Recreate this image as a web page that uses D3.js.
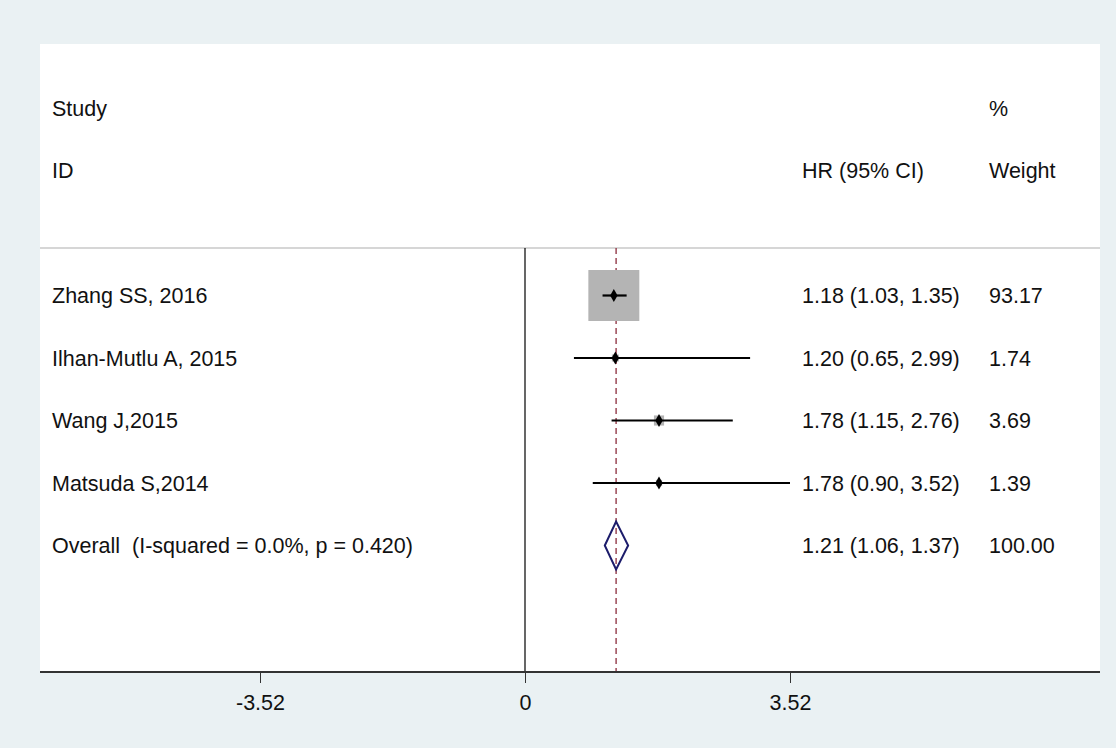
<!DOCTYPE html>
<html>
<head>
<meta charset="utf-8">
<title>Forest plot</title>
<style>
  body { margin: 0; background: #eaf1f3; }
  svg text { font-family: "Liberation Sans", Arial, sans-serif; font-size: 21.5px; fill: #111; white-space: pre; }
  .ci { stroke: #000; stroke-width: 2.2px; }
  .box { fill: #b4b4b4; }
  .dot { fill: #000; }
  .ref { stroke: #000; stroke-width: 1.2px; }
  .est { stroke: #8b2b3c; stroke-width: 1.3px; stroke-dasharray: 6,4; }
  .diamond { fill: none; stroke: #1c1c6b; stroke-width: 2px; }
</style>
</head>
<body>
<svg id="chart" width="1116" height="748"></svg>
<script src="https://cdn.jsdelivr.net/npm/d3@7"></script>
<script>
// study level data
var studies = ["Zhang SS, 2016", "Ilhan-Mutlu A, 2015", "Wang J,2015", "Matsuda S,2014"];
var hr     = [1.18, 1.20, 1.78, 1.78];
var lower  = [1.03, 0.65, 1.15, 0.90];
var upper  = [1.35, 2.99, 2.76, 3.52];
var weight = [93.17, 1.74, 3.69, 1.39];

// pooled estimate
var overallLabel = "Overall  (I-squared = 0.0%, p = 0.420)";
var overallHr = 1.21, overallLo = 1.06, overallHi = 1.37, overallWeight = 100.00;

var tickValues = [-3.52, 0, 3.52];
var tickLabels = ["-3.52", "0", "3.52"];

var svg = d3.select("#chart");
var panel = {left: 40, right: 1100, top: 44, bottom: 672};

// white plot area
svg.append("rect")
  .attr("x", panel.left).attr("y", panel.top)
  .attr("width", panel.right - panel.left).attr("height", panel.bottom - panel.top)
  .attr("fill", "#fff");

var x = d3.scaleLinear().domain([-3.52, 3.52]).range([260, 790]);

// rows: 0 Study, 1 ID, 2 blank, 3.. studies, then overall
var rows = d3.range(8);
var y = d3.scalePoint().domain(rows).range([108, 545.5]);

var colId = 52, colCi = 802, colW = 989;

// header
var head = svg.append("g");
head.append("text").attr("x", colId).attr("y", y(0)).attr("dy", "0.35em").text("Study");
head.append("text").attr("x", colId).attr("y", y(1)).attr("dy", "0.35em").text("ID");
head.append("text").attr("x", colW).attr("y", y(0)).attr("dy", "0.35em").text("%");
head.append("text").attr("x", colCi).attr("y", y(1)).attr("dy", "0.35em").text("HR (95% CI)");
head.append("text").attr("x", colW).attr("y", y(1)).attr("dy", "0.35em").text("Weight");

var lineTop = 248;
svg.append("line")
  .attr("x1", panel.left).attr("x2", panel.right)
  .attr("y1", lineTop).attr("y2", lineTop)
  .attr("stroke", "#c8c8c8").attr("stroke-width", 1.5);

// null line and pooled estimate line
svg.append("line").attr("class", "ref")
  .attr("x1", x(0)).attr("x2", x(0)).attr("y1", lineTop).attr("y2", panel.bottom);
svg.append("line").attr("class", "est")
  .attr("x1", x(overallHr)).attr("x2", x(overallHr)).attr("y1", lineTop).attr("y2", panel.bottom);

var data = studies.map(function(s, i) {
  return {name: s, hr: hr[i], lo: lower[i], hi: upper[i], w: weight[i], row: i + 3};
});

var side = d3.scaleSqrt().domain([0, 100]).range([0, 52.8]);
var fmt = d3.format(".2f");

var g = svg.append("g");
var rowsG = g.selectAll("g.study").data(data).enter().append("g").attr("class", "study");

rowsG.append("rect").attr("class", "box")
  .attr("x", function(d) { return x(d.hr) - side(d.w) / 2; })
  .attr("y", function(d) { return y(d.row) - side(d.w) / 2; })
  .attr("width", function(d) { return side(d.w); })
  .attr("height", function(d) { return side(d.w); });

rowsG.append("line").attr("class", "ci")
  .attr("x1", function(d) { return x(d.lo); })
  .attr("x2", function(d) { return x(d.hi); })
  .attr("y1", function(d) { return y(d.row); })
  .attr("y2", function(d) { return y(d.row); });

rowsG.append("path").attr("class", "dot")
  .attr("transform", function(d) { return "translate(" + x(d.hr) + "," + y(d.row) + ")"; })
  .attr("d", d3.symbol().type(d3.symbolDiamond).size(48));

rowsG.append("text").attr("x", colId).attr("y", function(d) { return y(d.row); }).attr("dy", "0.35em")
  .text(function(d) { return d.name; });
rowsG.append("text").attr("x", colCi).attr("y", function(d) { return y(d.row); }).attr("dy", "0.35em")
  .text(function(d) { return fmt(d.hr) + " (" + fmt(d.lo) + ", " + fmt(d.hi) + ")"; });
rowsG.append("text").attr("x", colW).attr("y", function(d) { return y(d.row); }).attr("dy", "0.35em")
  .text(function(d) { return fmt(d.w); });

// overall diamond
var oy = y(7), dh = 24;
svg.append("path").attr("class", "diamond")
  .attr("d", d3.line()([[x(overallLo), oy], [x(overallHr), oy - dh], [x(overallHi), oy], [x(overallHr), oy + dh]]) + "Z");
svg.append("text").attr("x", colId).attr("y", oy).attr("dy", "0.35em").text(overallLabel);
svg.append("text").attr("x", colCi).attr("y", oy).attr("dy", "0.35em")
  .text(fmt(overallHr) + " (" + fmt(overallLo) + ", " + fmt(overallHi) + ")");
svg.append("text").attr("x", colW).attr("y", oy).attr("dy", "0.35em").text(fmt(overallWeight));

// x axis
svg.append("line")
  .attr("x1", panel.left).attr("x2", panel.right)
  .attr("y1", panel.bottom).attr("y2", panel.bottom)
  .attr("stroke", "#333").attr("stroke-width", 2);

var axis = svg.append("g")
  .attr("transform", "translate(0," + panel.bottom + ")")
  .call(d3.axisBottom(x).tickValues(tickValues).tickSize(11).tickPadding(12)
    .tickFormat(function(d, i) { return tickLabels[i]; }));
axis.select(".domain").remove();
axis.selectAll(".tick line").attr("stroke", "#333");
axis.selectAll(".tick text").style("font-size", "21.5px").attr("fill", "#111");
</script>
</body>
</html>
